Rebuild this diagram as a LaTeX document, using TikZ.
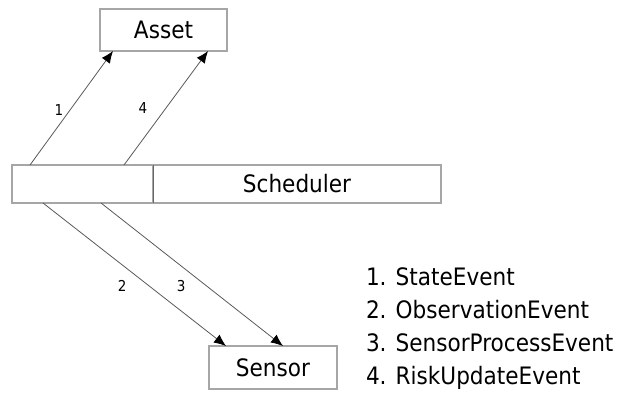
\documentclass[tikz,border=0pt]{standalone}
\usepackage{fontspec}
\setmainfont{DejaVu Sans Condensed}
\usepackage{tikz}
\usetikzlibrary{positioning}
\usetikzlibrary{arrows.meta}

\begin{document}
\begin{tikzpicture}[x=1pt,y=-1pt,node distance=33.3pt,
	every node/.style={inner sep=0,outer sep=0},
	box/.style={draw=black!35,line width=1.1pt,font=\fontsize{24}{28}\selectfont},
	msg/.style={draw=black!65,line width=0.8pt,-{Latex[length=12pt,width=10pt,black]}},
	num/.style={font=\fontsize{15}{18}\selectfont},
	evitem/.style={anchor=base west,font=\fontsize{24}{28}\selectfont}]
	\useasboundingbox (0,0) rectangle (621,392);
	% boxes
	\node[box,minimum width=127pt,minimum height=42pt] (asset) at (163.5,30) {Asset};
	\node[box,minimum width=141pt,minimum height=38pt] (split) at (82.5,184) {};
	\node[box,minimum width=288pt,minimum height=38pt,right=0pt of split] (sched) {Scheduler};
	\node[box,minimum width=128pt,minimum height=43pt] (sensor) at (273,367.5) {Sensor};
	\draw[black!60,line width=0.8pt] (split.north east) -- (split.south east);
	% events
	\draw[msg] ([xshift=18pt]split.north west) -- node[num,pos=.5,xshift=-12.5pt,yshift=-2pt] (n1) {1} ([xshift=13pt]asset.south west);
	\draw[msg] ([xshift=112pt]split.north west) -- node[num,pos=.5,xshift=-23pt] (n4) {4} ([xshift=108pt]asset.south west);
	\draw[msg] ([xshift=31pt]split.south west) -- node[num,pos=.58,xshift=-27pt] (n2) {2} ([xshift=17pt]sensor.north west);
	\draw[msg] ([xshift=89pt]split.south west) -- node[num,pos=.58,xshift=-25.5pt] (n3) {3} ([xshift=74pt]sensor.north west);
	% list of events
	\node[evitem] (ev1) at (366,285) {1. StateEvent};
	\node[evitem,below=of ev1.base west,anchor=base west] (ev2) {2. ObservationEvent};
	\node[evitem,below=of ev2.base west,anchor=base west] (ev3) {3. SensorProcessEvent};
	\node[evitem,below=of ev3.base west,anchor=base west] (ev4) {4. RiskUpdateEvent};
\end{tikzpicture}
\end{document}
